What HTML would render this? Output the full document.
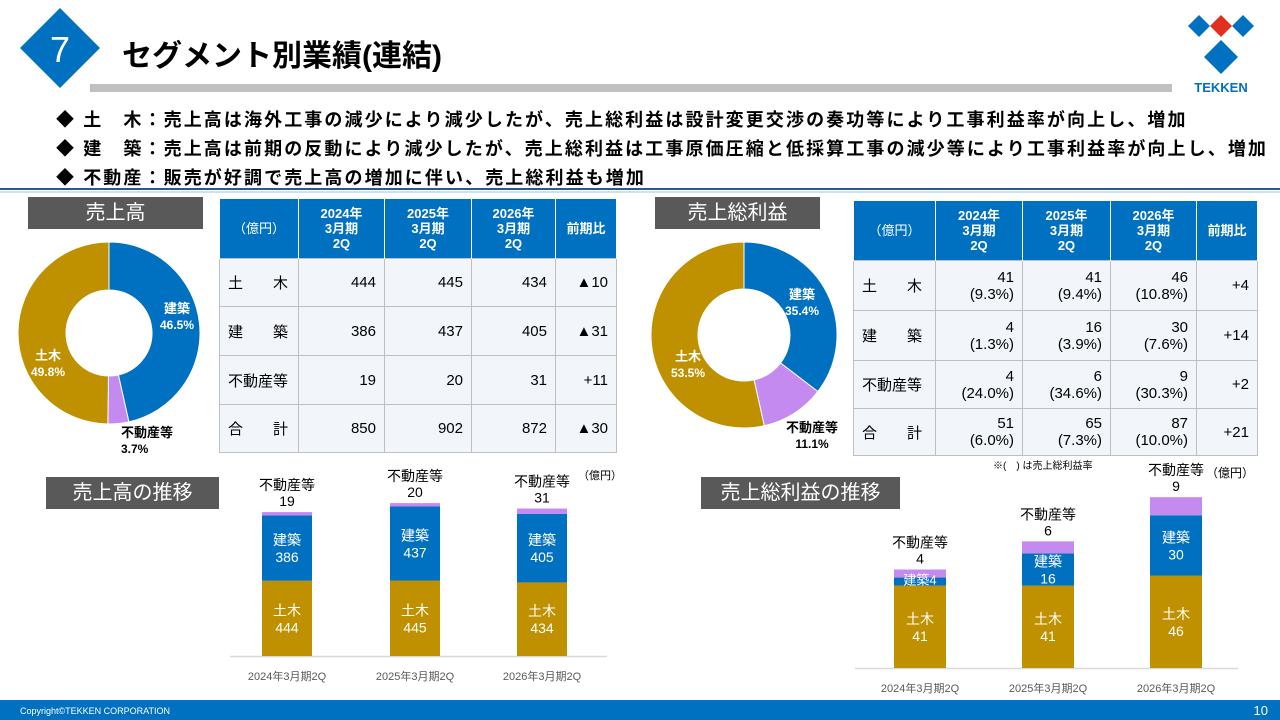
<!DOCTYPE html>
<html><head><meta charset="utf-8">
<style>
*{margin:0;padding:0;box-sizing:border-box}
body{width:1280px;height:720px;position:relative;background:#fff;font-family:"Liberation Sans","Noto Sans CJK JP",sans-serif;overflow:hidden;color:#000}
.abs{position:absolute}
.bul{position:absolute;left:56px;font-size:18px;font-weight:bold;white-space:nowrap;letter-spacing:2.1px}
.sec{position:absolute;background:#595959;color:#fff;font-size:20px;text-align:center;line-height:32px}
table{position:absolute;border-collapse:collapse;font-size:15px}
td,th{border:1px solid #bfbfbf;background:#f2f5fa;text-align:right;padding-right:8px}
th{background:#0070c0;color:#fff;text-align:center;font-size:13px;line-height:15px;padding:0;border:1px solid #fff;border-bottom:none}
td.l{text-align:left;padding-left:8px}
</style></head><body>
<svg class="abs" style="left:0;top:0" width="1280" height="720">
<polygon points="60,8 100,48 60,88 20,48" fill="#0070c0"/>
<text x="60" y="62" fill="#fff" font-size="36" text-anchor="middle" font-family="Liberation Sans">7</text>
<rect x="90" y="84" width="1082" height="8" fill="#c0c0c0"/>
<g>
<polygon points="1199,15 1210,26 1199,37 1188,26" fill="#0070c0"/>
<polygon points="1221,15 1232,26 1221,37 1210,26" fill="#e0301e"/>
<polygon points="1243,15 1254,26 1243,37 1232,26" fill="#0070c0"/>
<polygon points="1221,40 1238,57 1221,74 1204,57" fill="#0070c0"/>
<text x="1221" y="92" fill="#0070c0" font-size="13" font-weight="bold" text-anchor="middle" font-family="Liberation Sans">TEKKEN</text>
</g>
<line x1="0" y1="189" x2="1280" y2="189" stroke="#2f5597" stroke-width="2"/>
<line x1="0" y1="192" x2="1280" y2="192" stroke="#9dc3e6" stroke-width="1"/>
<rect x="0" y="700" width="1280" height="20" fill="#0070c0"/>
<text x="20" y="714" fill="#fff" font-size="9">Copyright©TEKKEN CORPORATION</text>
<text x="1268" y="715" fill="#fff" font-size="13" text-anchor="end">10</text>
</svg>
<div class="abs" style="left:122px;top:31px;font-size:30px;font-weight:bold">セグメント別業績(連結)</div>
<div class="bul" style="top:106px">◆ 土　木：売上高は海外工事の減少により減少したが、売上総利益は設計変更交渉の奏功等により工事利益率が向上し、増加</div>
<div class="bul" style="top:135px">◆ 建　築：売上高は前期の反動により減少したが、売上総利益は工事原価圧縮と低採算工事の減少等により工事利益率が向上し、増加</div>
<div class="bul" style="top:164px">◆ 不動産：販売が好調で売上高の増加に伴い、売上総利益も増加</div>

<div class="sec" style="left:28px;top:197px;width:175px">売上高</div>
<div class="sec" style="left:655px;top:197px;width:165px">売上総利益</div>
<div class="sec" style="left:46px;top:477px;width:173px">売上高の推移</div>
<div class="sec" style="left:701px;top:477px;width:199px">売上総利益の推移</div>

<table style="left:219px;top:198px;width:398px">
<tr style="height:60px"><th style="width:79px;font-weight:normal">（億円）</th><th style="width:86px">2024年<br>3月期<br>2Q</th><th style="width:87px">2025年<br>3月期<br>2Q</th><th style="width:84px">2026年<br>3月期<br>2Q</th><th>前期比</th></tr>
<tr style="height:48px"><td class="l">土　　木</td><td>444</td><td>445</td><td>434</td><td>▲10</td></tr>
<tr style="height:49px"><td class="l">建　　築</td><td>386</td><td>437</td><td>405</td><td>▲31</td></tr>
<tr style="height:49px"><td class="l">不動産等</td><td>19</td><td>20</td><td>31</td><td>+11</td></tr>
<tr style="height:48px"><td class="l">合　　計</td><td>850</td><td>902</td><td>872</td><td>▲30</td></tr>
</table>
<table style="left:853px;top:200px;width:405px">
<tr style="height:60px"><th style="width:82px;font-weight:normal">（億円）</th><th style="width:87px">2024年<br>3月期<br>2Q</th><th style="width:88px">2025年<br>3月期<br>2Q</th><th style="width:86px">2026年<br>3月期<br>2Q</th><th>前期比</th></tr>
<tr style="height:50px"><td class="l">土　　木</td><td>41<br>(9.3%)</td><td>41<br>(9.4%)</td><td>46<br>(10.8%)</td><td>+4</td></tr>
<tr style="height:50px"><td class="l">建　　築</td><td>4<br>(1.3%)</td><td>16<br>(3.9%)</td><td>30<br>(7.6%)</td><td>+14</td></tr>
<tr style="height:48px"><td class="l">不動産等</td><td>4<br>(24.0%)</td><td>6<br>(34.6%)</td><td>9<br>(30.3%)</td><td>+2</td></tr>
<tr style="height:47px"><td class="l">合　　計</td><td>51<br>(6.0%)</td><td>65<br>(7.3%)</td><td>87<br>(10.0%)</td><td>+21</td></tr>
</table>
<div class="abs" style="left:993px;top:457px;font-size:10px">※(　) は売上総利益率</div>

<svg id="charts" class="abs" style="left:0;top:0" width="1280" height="720"></svg>
<script>
const segNames=["建築","不動産等","土木"];
const salesShare=[46.5,3.7,49.8];
const profitShare=[35.4,11.1,53.5];
const periods=["2024年3月期2Q","2025年3月期2Q","2026年3月期2Q"];
const salesCivil=[444,445,434];
const salesBuild=[386,437,405];
const salesRE=[19,20,31];
const profCivil=[41,41,46];
const profBuild=[4,16,30];
const profRE=[4,6,9];
const COL={civil:"#bf9000",build:"#0070c0",re:"#c58af0"};
const NS="http://www.w3.org/2000/svg";
const svg=document.getElementById("charts");
function mk(tag,attrs,parent){const e=document.createElementNS(NS,tag);for(const k in attrs)e.setAttribute(k,attrs[k]);(parent||svg).appendChild(e);return e;}
function txt(x,y,s,size,fill,weight,anchor){const t=mk("text",{x:x,y:y,"font-size":size,fill:fill,"font-weight":weight||"normal","text-anchor":anchor||"middle","font-family":"Liberation Sans, Noto Sans CJK JP, sans-serif"});t.textContent=s;return t;}

function donut(cx,cy,R,r,shares,name,labels){
  const g=mk("g",{});
  
  
  const cols=[COL.build,COL.re,COL.civil];
  let a0=-Math.PI/2;
  shares.forEach((v,i)=>{
    const a1=a0+v/100*2*Math.PI;const lg=(a1-a0)>Math.PI?1:0;
    const p=`M${cx+R*Math.cos(a0)},${cy+R*Math.sin(a0)} A${R},${R} 0 ${lg} 1 ${cx+R*Math.cos(a1)},${cy+R*Math.sin(a1)} L${cx+r*Math.cos(a1)},${cy+r*Math.sin(a1)} A${r},${r} 0 ${lg} 0 ${cx+r*Math.cos(a0)},${cy+r*Math.sin(a0)} Z`;
    const s=mk("path",{d:p,fill:cols[i],stroke:"#fff","stroke-width":1},g);
    
    
    a0=a1;
  });
  labels.forEach((L,i)=>{
    txt(L[0],L[1],segNames[i],13,L[2],"bold",L[3]);
    txt(L[0],L[1]+16,shares[i].toFixed(1)+"%",12,L[2],"bold",L[3]);
  });
}
donut(109,333,91,43,salesShare,"sales-donut",[[177,313,"#fff"],[121,437,"#000","start"],[48,360,"#fff"]]);
donut(744,335,93,46,profitShare,"profit-donut",[[802,299,"#fff"],[812,432,"#000"],[688,361,"#fff"]]);

function stack(name,base,centers,w,scale,civil,build,re,axis,xlabY){
  const g=mk("g",{});
  
  
  mk("line",{x1:axis[0],y1:base+0.5,x2:axis[1],y2:base+0.5,stroke:"#d9d9d9","stroke-width":1.5},g);
  centers.forEach((cx,i)=>{
    const hc=civil[i]*scale,hb=build[i]*scale,hr=re[i]*scale;
    const yc=base-hc,yb=yc-hb,yr=yb-hr;
    const r1=mk("rect",{x:cx-w/2,y:yc,width:w,height:hc,fill:COL.civil},g);
    
    const r2=mk("rect",{x:cx-w/2,y:yb,width:w,height:hb,fill:COL.build},g);
    
    const r3=mk("rect",{x:cx-w/2,y:yr,width:w,height:hr,fill:COL.re},g);
    
    const ymc=yc+hc/2;
    txt(cx,ymc-3,"土木",14,"#fff");txt(cx,ymc+14,String(civil[i]),14,"#fff");
    if(hb>25){const ym=yb+hb/2;txt(cx,ym-3,"建築",14,"#fff");txt(cx,ym+14,String(build[i]),14,"#fff");}
    else{txt(cx,yb+hb-1,"建築"+build[i],13,"#fff");}
    txt(cx,yr-22,"不動産等",14,"#000");txt(cx,yr-6,String(re[i]),14,"#000");
    txt(cx,xlabY,periods[i],11,"#595959");
  });
}
stack("sales-trend-chart",656,[287,415,542],50,0.1695,salesCivil,salesBuild,salesRE,[230,607],680);
stack("profit-trend-chart",668,[920,1048,1176],52,2.01,profCivil,profBuild,profRE,[855,1238],692);
txt(600,479,"（億円）",11,"#000");
txt(1230,477,"（億円）",12,"#000");
</script>
</body></html>
